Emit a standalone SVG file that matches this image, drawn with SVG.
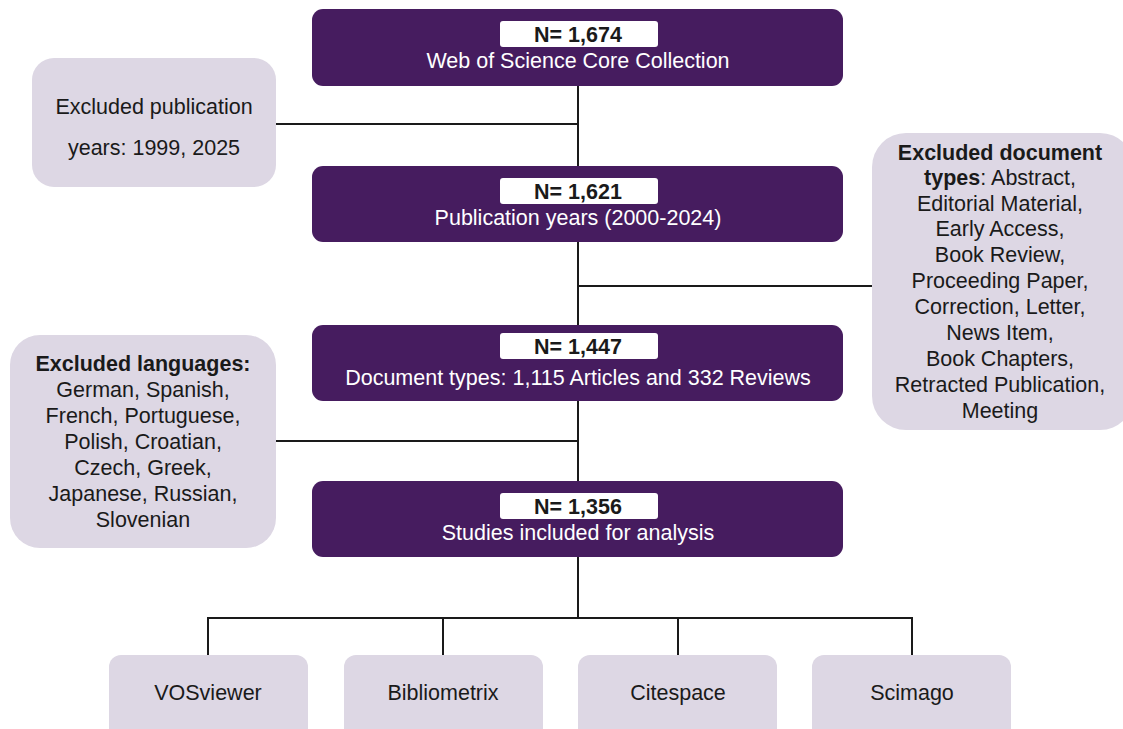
<svg xmlns="http://www.w3.org/2000/svg" width="1123" height="729" viewBox="0 0 1123 729">
<style>
.main{fill:#461c5f}
.side{fill:#ddd7e4}
.lbl{fill:#ffffff}
text{font-family:"Liberation Sans",Arial,sans-serif;font-size:21.5px;text-anchor:middle}
.w{fill:#ffffff}
.k{fill:#1a1a1a}
.b{font-weight:bold}
.conn{stroke:#1a1a1a;stroke-width:2;fill:none}
</style>
<rect width="1123" height="729" fill="#ffffff"/>
<g id="connectors">
<path class="conn" d="M578 86V481M276 124H578M578 286H872M276 441H578M578 557V618M208 655V618H912V655M443 618V655M678 618V655"/>
</g>
<g id="n1">
<rect class="main" x="312" y="9" width="531" height="77" rx="11"/>
<rect class="lbl" x="500" y="21" width="158" height="26" rx="3"/>
<text class="k b" x="578" y="42">N= 1,674</text>
<text class="w" x="578" y="68">Web of Science Core Collection</text>
</g>
<g id="n2">
<rect class="main" x="312" y="166" width="531" height="76" rx="11"/>
<rect class="lbl" x="500" y="178" width="158" height="26" rx="3"/>
<text class="k b" x="578" y="199">N= 1,621</text>
<text class="w" x="578" y="225">Publication years (2000-2024)</text>
</g>
<g id="n3">
<rect class="main" x="312" y="325" width="531" height="76" rx="11"/>
<rect class="lbl" x="500" y="333" width="158" height="26" rx="3"/>
<text class="k b" x="578" y="354">N= 1,447</text>
<text class="w" x="578" y="385">Document types: 1,115 Articles and 332 Reviews</text>
</g>
<g id="n4">
<rect class="main" x="312" y="481" width="531" height="76" rx="11"/>
<rect class="lbl" x="500" y="493" width="158" height="26" rx="3"/>
<text class="k b" x="578" y="514">N= 1,356</text>
<text class="w" x="578" y="540">Studies included for analysis</text>
</g>
<g id="ex1">
<rect class="side" x="32" y="58" width="244" height="129" rx="22"/>
<text class="k" x="154" y="114">Excluded publication</text>
<text class="k" x="154" y="155">years: 1999, 2025</text>
</g>
<g id="ex2">
<rect class="side" x="872" y="133" width="262" height="297" rx="34"/>
<text class="k" x="1000" y="160"><tspan class="b">Excluded document</tspan></text>
<text class="k" x="1000" y="185"><tspan class="b">types</tspan>: Abstract,</text>
<text class="k" x="1000" y="211">Editorial Material,</text>
<text class="k" x="1000" y="236">Early Access,</text>
<text class="k" x="1000" y="262">Book Review,</text>
<text class="k" x="1000" y="288">Proceeding Paper,</text>
<text class="k" x="1000" y="314">Correction, Letter,</text>
<text class="k" x="1000" y="340">News Item,</text>
<text class="k" x="1000" y="366">Book Chapters,</text>
<text class="k" x="1000" y="392">Retracted Publication,</text>
<text class="k" x="1000" y="418">Meeting</text>
</g>
<g id="ex3">
<rect class="side" x="10" y="335" width="266" height="213" rx="30"/>
<text class="k b" x="143" y="371">Excluded languages:</text>
<text class="k" x="143" y="397">German, Spanish,</text>
<text class="k" x="143" y="423">French, Portuguese,</text>
<text class="k" x="143" y="449">Polish, Croatian,</text>
<text class="k" x="143" y="475">Czech, Greek,</text>
<text class="k" x="143" y="501">Japanese, Russian,</text>
<text class="k" x="143" y="527">Slovenian</text>
</g>
<g id="t1">
<rect class="side" x="109" y="655" width="199" height="85" rx="12"/>
<text class="k" x="208" y="700">VOSviewer</text>
</g>
<g id="t2">
<rect class="side" x="344" y="655" width="199" height="85" rx="12"/>
<text class="k" x="443" y="700">Bibliometrix</text>
</g>
<g id="t3">
<rect class="side" x="578" y="655" width="199" height="85" rx="12"/>
<text class="k" x="678" y="700">Citespace</text>
</g>
<g id="t4">
<rect class="side" x="812" y="655" width="199" height="85" rx="12"/>
<text class="k" x="912" y="700">Scimago</text>
</g>
</svg>
